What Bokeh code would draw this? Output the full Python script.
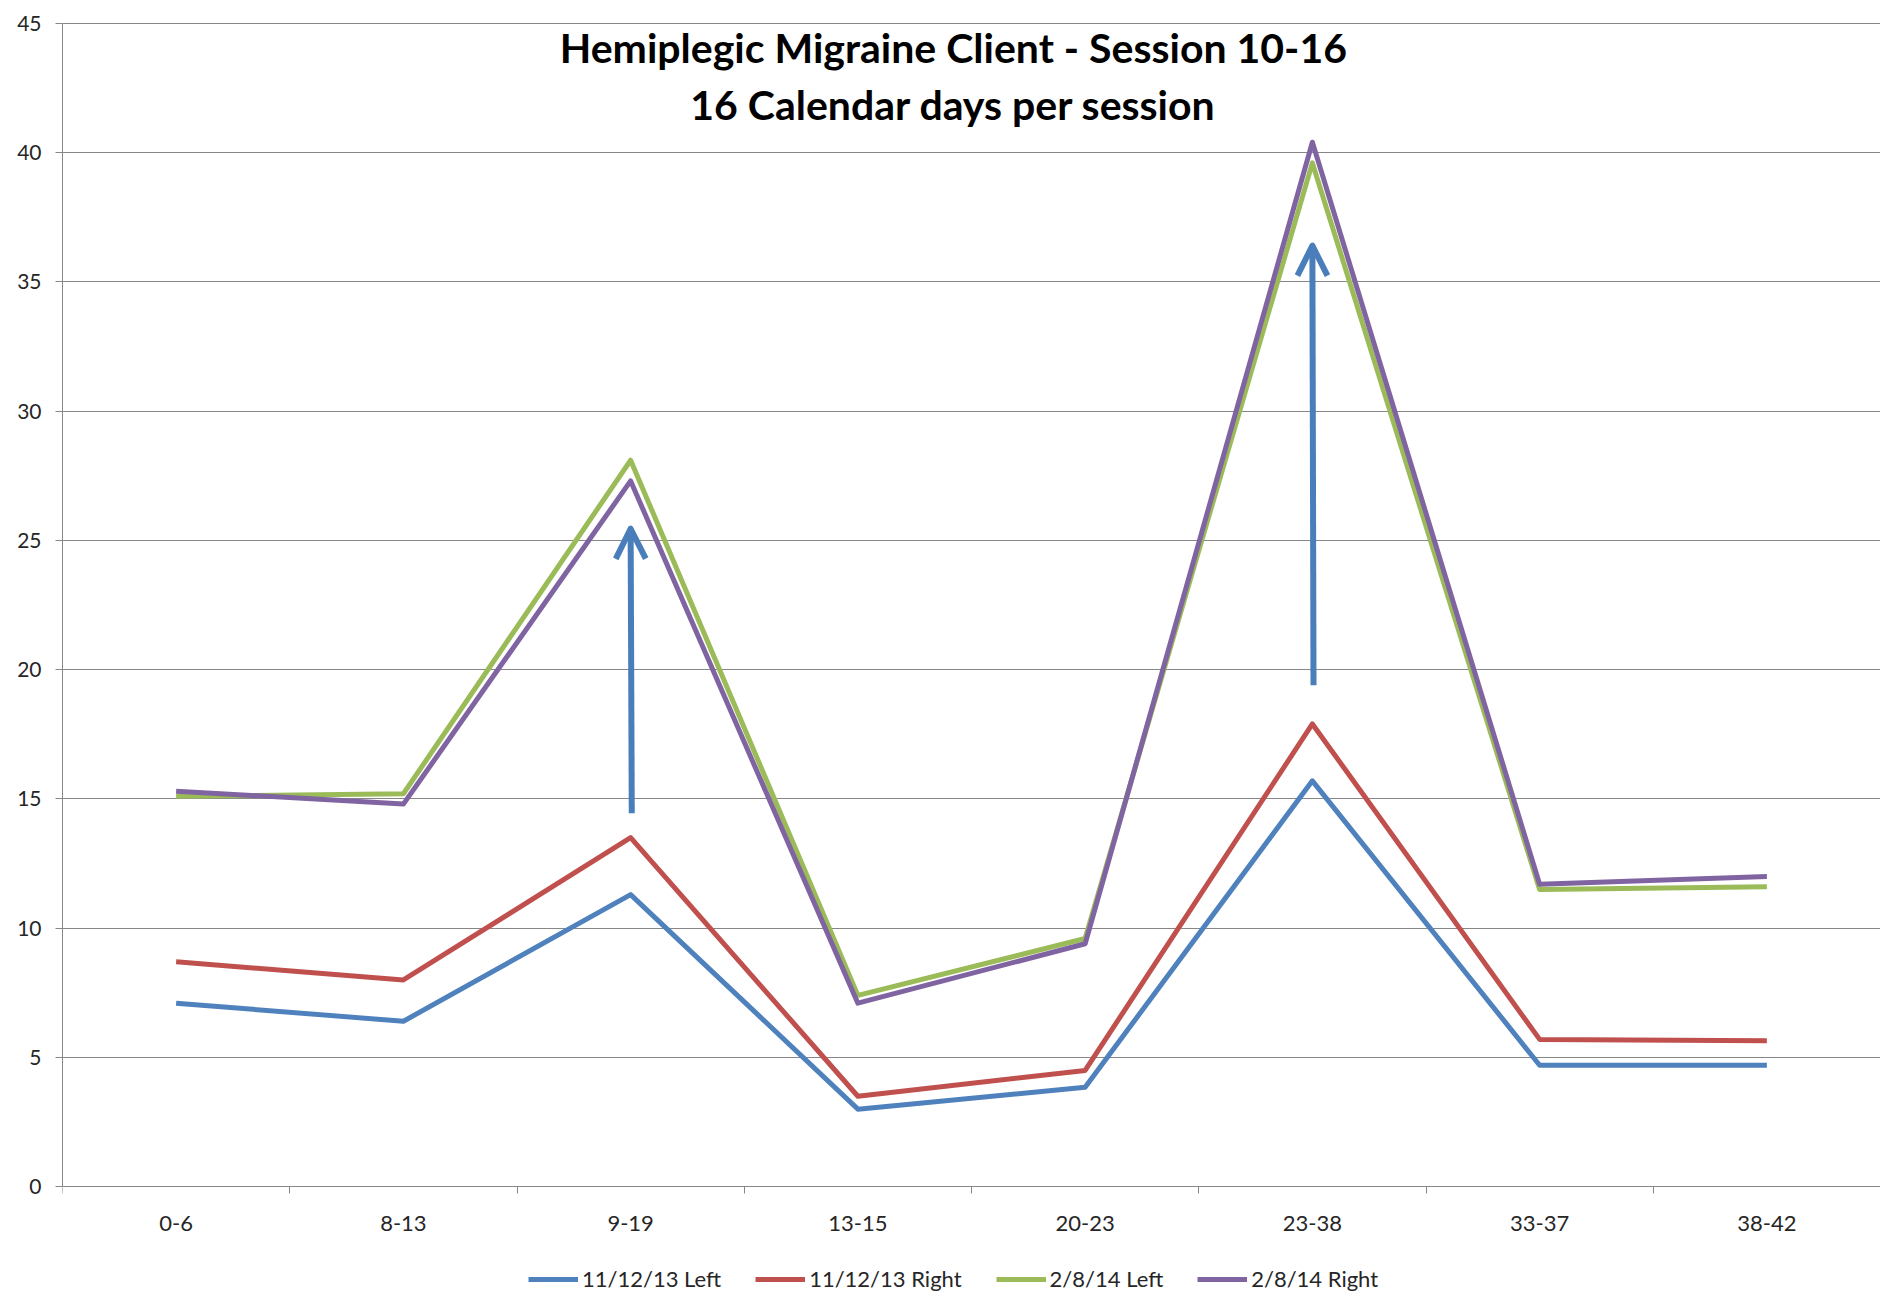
from bokeh.plotting import figure
from bokeh.models import (Range1d, FixedTicker, Legend, LegendItem, Label, Arrow, OpenHead, LinearAxis)
from bokeh.embed import file_html
from bokeh.resources import INLINE

# ---- data ----
categories = ["0-6", "8-13", "9-19", "13-15", "20-23", "23-38", "33-37", "38-42"]
left_2013 = [7.1, 6.4, 11.3, 3.0, 3.85, 15.7, 4.7, 4.7]
right_2013 = [8.7, 8.0, 13.5, 3.5, 4.5, 17.9, 5.7, 5.65]
left_2014 = [15.1, 15.2, 28.1, 7.4, 9.6, 39.6, 11.5, 11.6]
right_2014 = [15.3, 14.8, 27.3, 7.1, 9.4, 40.4, 11.7, 12.0]
series_names = ["11/12/13 Left", "11/12/13 Right", "2/8/14 Left", "2/8/14 Right"]
series_colors = ["#4F81BD", "#C0504D", "#9BBB59", "#8064A2"]
y_ticks = [0, 5, 10, 15, 20, 25, 30, 35, 40, 45]
title_lines = ["Hemiplegic Migraine Client - Session 10-16", "16 Calendar days per session"]
# annotation arrows: (category index, start value, end value)
arrow_cat = [2, 5]
arrow_start = [14.45, 19.4]
arrow_end = [25.45, 36.4]

FONT = "Lato"
GRID = "#878787"
TXT = "#262626"

n = len(categories)
xs = [i + 0.5 for i in range(n)]

# frame runs to the bottom of the canvas; the x axis sits at y=0 and the legend below it
p = figure(width=1880, height=1292, output_backend="svg", toolbar_location=None,
           x_range=Range1d(0, n), y_range=Range1d(-4.09, 45.03), x_axis_location=None,
           min_border_left=62, min_border_right=0, min_border_top=22, min_border_bottom=0)
p.outline_line_color = None
p.background_fill_color = "white"
p.border_fill_color = "white"

# x axis at value 0
xaxis = LinearAxis(fixed_location=0,
                   ticker=FixedTicker(ticks=xs, minor_ticks=list(range(n + 1))),
                   major_label_overrides={x: c for x, c in zip(xs, categories)})
xaxis.major_tick_line_color = None
xaxis.major_tick_out = 7
xaxis.major_tick_in = 0
xaxis.minor_tick_line_color = GRID
xaxis.minor_tick_out = 7
xaxis.minor_tick_in = 0
xaxis.axis_line_color = GRID
xaxis.major_label_standoff = 22
xaxis.major_label_text_font = FONT
xaxis.major_label_text_font_size = "22px"
xaxis.major_label_text_color = TXT
p.add_layout(xaxis, "below")

p.yaxis.ticker = FixedTicker(ticks=y_ticks)
p.yaxis.bounds = (0, 45)
p.yaxis.minor_tick_line_color = None
p.yaxis.major_tick_line_color = GRID
p.yaxis.major_tick_out = 7
p.yaxis.major_tick_in = 0
p.yaxis.axis_line_color = GRID
p.yaxis.major_label_standoff = 14
p.yaxis.major_label_text_font = FONT
p.yaxis.major_label_text_font_size = "21px"
p.yaxis.major_label_text_color = TXT

p.xgrid.grid_line_color = None
p.ygrid.grid_line_color = GRID
p.ygrid.grid_line_width = 1.2

# lines
renderers = []
for vals, col in zip([left_2013, right_2013, left_2014, right_2014], series_colors):
    r = p.line(xs, vals, line_color=col, line_width=5, line_join="round")
    renderers.append(r)

# arrows
for ci, s, e in zip(arrow_cat, arrow_start, arrow_end):
    p.add_layout(Arrow(x_start=xs[ci] + 0.005, y_start=s, x_end=xs[ci], y_end=e,
                       line_color="#4A7EBB", line_width=6,
                       end=OpenHead(size=30, line_color="#4A7EBB", line_width=6, line_join="round")))

# title inside plot
for line_txt, yv in zip(title_lines, [44.08, 41.84]):
    p.add_layout(Label(x=3.92, y=yv, text=line_txt, text_align="center", text_baseline="middle",
                       text_font=FONT, text_font_style="bold", text_font_size="41px",
                       text_color="black"))

legend = Legend(items=[LegendItem(label=nm, renderers=[r]) for nm, r in zip(series_names, renderers)],
                orientation="horizontal", location=(466, 0), margin=0, padding=0,
                border_line_color=None, background_fill_alpha=0,
                glyph_width=50, glyph_height=20, label_standoff=4, spacing=34,
                label_text_font=FONT, label_text_font_size="22px", label_text_color=TXT)
p.add_layout(legend, "center")

open("out.html", "w").write(file_html(p, INLINE))
